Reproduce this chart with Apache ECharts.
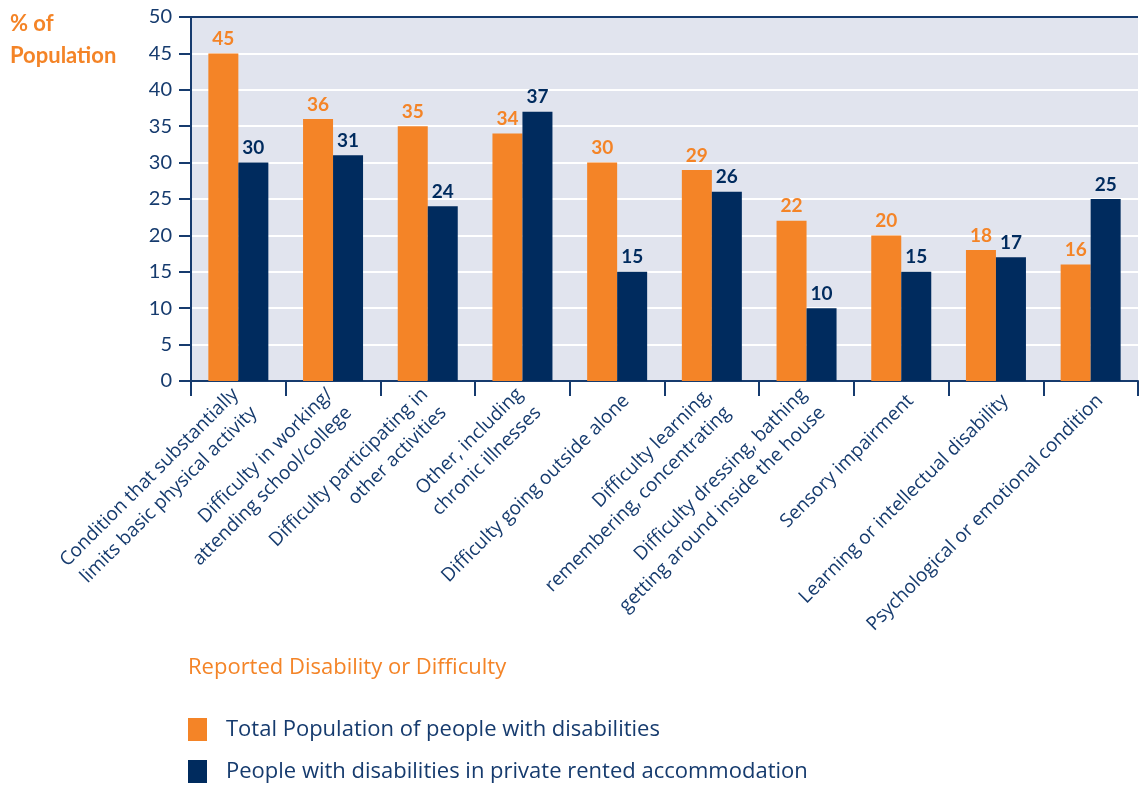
<!DOCTYPE html>
<html>
<head>
<meta charset="utf-8">
<script src="https://cdn.jsdelivr.net/npm/echarts@6/dist/echarts.min.js"></script>
<style>
  html, body { margin: 0; padding: 0; background: #ffffff; }
  #chart { width: 1144px; height: 791px; }
</style>
</head>
<body>
<div id="chart"></div>
<script>
// Reported disability categories (x axis)
const categories = [
  'Condition that substantially\nlimits basic physical activity',
  'Difficulty in working/\nattending school/college',
  'Difficulty participating in\nother activities',
  'Other, including\nchronic illnesses',
  'Difficulty going outside alone',
  'Difficulty learning,\nremembering, concentrating',
  'Difficulty dressing, bathing\ngetting around inside the house',
  'Sensory impairment',
  'Learning or intellectual disability',
  'Psychological or emotional condition'
];

// % of population, per group
const totalPopulation = [45, 36, 35, 34, 30, 29, 22, 20, 18, 16];
const privateRented   = [30, 31, 24, 37, 15, 26, 10, 15, 17, 25];

const seriesNames = [
  'Total Population of people with disabilities',
  'People with disabilities in private rented accommodation'
];

const yTicks = { min: 0, max: 50, interval: 5 };

const ORANGE = '#f48427';
const NAVY = '#002b5e';
const TEXT_NAVY = '#163b6e';
const PLOT_BG = '#e1e4ee';

// Two-line category labels hang a little lower than single-line ones
const categoryItems = categories.map((name) => {
  const twoLine = name.indexOf('\n') >= 0;
  return {
    value: name,
    textStyle: { padding: twoLine ? [18, -9, -18, 0] : [11, -13, -11, 0] }
  };
});

const chart = echarts.init(document.getElementById('chart'), null, { renderer: 'canvas' });

const labelStyle = (color) => ({
  show: true,
  position: 'top',
  distance: 5,
  color: color,
  fontFamily: 'Lato',
  fontWeight: 'bold',
  fontSize: 19
});

chart.setOption({
  animation: false,
  backgroundColor: '#ffffff',
  grid: {
    left: 191, right: 6, top: 17, bottom: 410,
    show: true, backgroundColor: PLOT_BG, borderWidth: 0
  },
  legend: {
    orient: 'vertical',
    left: 188,
    top: 718,
    padding: 0,
    itemWidth: 19,
    itemHeight: 23,
    itemGap: 19,
    icon: 'rect',
    selectedMode: false,
    textStyle: {
      color: TEXT_NAVY,
      fontFamily: 'Open Sans',
      fontSize: 22,
      padding: [0, 0, 0, 14]
    },
    data: seriesNames
  },
  graphic: [
    {
      type: 'text', left: 10, top: 8,
      style: {
        text: '% of\nPopulation',
        fill: ORANGE,
        font: 'bold 22px Lato',
        lineHeight: 32
      }
    },
    {
      type: 'text', left: 188, top: 657,
      style: {
        text: 'Reported Disability or Difficulty',
        fill: ORANGE,
        font: '22px "Open Sans"'
      }
    }
  ],
  xAxis: {
    type: 'category',
    data: categoryItems,
    axisLine: { lineStyle: { color: TEXT_NAVY, width: 2 } },
    axisTick: { show: true, length: 15, lineStyle: { color: TEXT_NAVY, width: 2 } },
    axisLabel: {
      interval: 0,
      rotate: 45,
      margin: 26,
      color: TEXT_NAVY,
      fontFamily: 'Open Sans',
      fontSize: 19,
      lineHeight: 26,
      padding: [11, -11, -11, 0]
    }
  },
  yAxis: {
    type: 'value',
    min: yTicks.min,
    max: yTicks.max,
    interval: yTicks.interval,
    axisLine: { show: true, lineStyle: { color: TEXT_NAVY, width: 2 } },
    axisTick: { show: true, length: 12, lineStyle: { color: TEXT_NAVY, width: 2 } },
    axisLabel: {
      margin: 19,
      color: TEXT_NAVY,
      fontFamily: 'Lato',
      fontSize: 20
    },
    splitLine: { lineStyle: { color: '#ffffff', width: 2 } }
  },
  series: [
    {
      name: seriesNames[0],
      type: 'bar',
      data: totalPopulation,
      barWidth: 30,
      barGap: '0%',
      itemStyle: { color: ORANGE },
      label: labelStyle(ORANGE),
      markLine: {
        silent: true,
        symbol: 'none',
        label: { show: false },
        lineStyle: { color: TEXT_NAVY, width: 2, type: 'solid' },
        data: [{ yAxis: yTicks.max }]
      }
    },
    {
      name: seriesNames[1],
      type: 'bar',
      data: privateRented,
      barWidth: 30,
      itemStyle: { color: NAVY },
      label: labelStyle(NAVY)
    }
  ]
});
</script>
</body>
</html>
